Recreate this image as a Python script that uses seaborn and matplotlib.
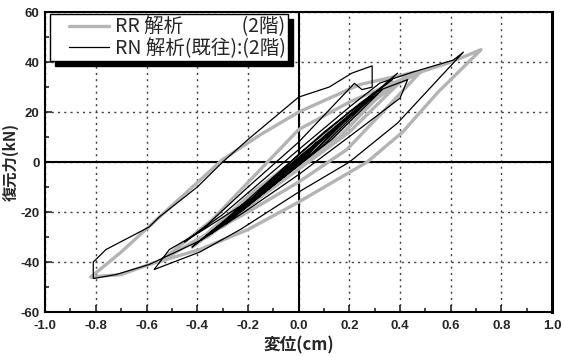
import numpy as np
import pandas as pd
import seaborn as sns
import matplotlib.pyplot as plt
from matplotlib.ticker import MultipleLocator
from matplotlib.patches import Rectangle
from matplotlib.legend_handler import HandlerLine2D

# RR 解析 (gray) - displacement (cm) / restoring force (kN)
rr_x = [0.0, 0.04, 0.0, -0.04, 0.0,
        0.08, 0.02, -0.08, -0.02,
        0.13, 0.04, -0.13, -0.04,
        0.18, 0.06, -0.18, -0.06,
        0.24, 0.09, -0.24, -0.09,
        0.30, 0.12, -0.30, -0.12,
        0.37, 0.16, -0.36, -0.15,
        0.42, 0.20, -0.42, -0.18,
        0.0, 0.25, 0.48,
        0.35, 0.19, 0.0, -0.2, -0.4, -0.55,
        -0.45, -0.34, 0.0, 0.2, 0.45, 0.6, 0.72,
        0.55, 0.41, 0.27, 0.0, -0.2, -0.39, -0.59, -0.70, -0.82,
        -0.70, -0.56, -0.43, -0.30, -0.15, 0.0, 0.24, 0.46]
rr_y = [0, 5, 1, -4, -1,
        9, 2, -8, -2,
        13, 3, -12, -3,
        17, 4, -16, -4,
        22, 6, -21, -6,
        27, 8, -26, -8,
        32, 10, -30, -10,
        34, 12, -34, -12,
        2, 24, 36,
        22, 5, -8, -20, -31, -40,
        -32, -23, 13, 24, 35, 40, 45,
        28, 12, 0, -16, -27, -35, -41, -45, -46,
        -36, -23, -11, 1, 11, 20, 31, 36]

# RN 解析(既往) (black)
rn_x = [0.0, 0.03, 0.0, -0.03, 0.0,
        0.07, 0.01, -0.07, -0.01,
        0.12, 0.03, -0.12, -0.03,
        0.17, 0.05, -0.17, -0.04,
        0.22, 0.07, -0.23, -0.07,
        0.28, 0.10, -0.29, -0.10,
        0.33, 0.13, -0.35, -0.12,
        0.39, 0.2, 0.0, -0.2, -0.42,
        -0.3, -0.1, 0.1, 0.3, 0.43, 0.40,
        0.25, 0.0, -0.2, -0.38, -0.59, -0.72, -0.81, -0.81, -0.76,
        -0.59, -0.55, -0.40, -0.30, -0.20, 0.0, 0.12, 0.21, 0.29, 0.29, 0.25, 0.22,
        0.0, -0.2, -0.36, -0.45,
        -0.3, 0.0, 0.2, 0.32, 0.45, 0.61, 0.65,
        0.39, 0.2, 0.0, -0.23, -0.39, -0.57, -0.51,
        -0.39, -0.19, 0.0, 0.2, 0.37]
rn_y = [0, 4, 1, -3, -1,
        8, 1, -7, -1,
        12, 2, -11, -2,
        16, 3, -15, -3,
        20, 5, -20, -5,
        25, 7, -25, -7,
        29, 9, -29, -9,
        35.6, 18, 2, -16, -34,
        -24, -6, 12, 28, 33, 25.6,
        14, -5, -19, -31, -41, -45, -46.6, -40, -35,
        -26, -22, -10, 0, 9, 26, 30, 35.6, 38.5, 30, 29, 31.5,
        8, -10, -25, -32,
        -21, 5, 22, 31.6, 36, 40.8, 44,
        15.6, 0, -12, -27, -36, -43, -35,
        -28, -15, 3, 20, 33]

label_rr = 'RR 解析\u3000\u3000\u3000(2階)'
label_rn = 'RN 解析(既往):(2階)'

rr = pd.DataFrame({'x': rr_x, 'y': rr_y})
rn = pd.DataFrame({'x': rn_x, 'y': rn_y})

sns.set_style('white')
plt.rcParams['font.family'] = ['Noto Sans CJK JP', 'DejaVu Sans']

fig = plt.figure(figsize=(5.64, 3.57), dpi=100)
ax = fig.add_axes([0.08, 0.126, 0.899, 0.84])

sns.lineplot(data=rr, x='x', y='y', sort=False, estimator=None, color='#b4b4b4',
             linewidth=2.4, ax=ax, label=label_rr)
sns.lineplot(data=rn, x='x', y='y', sort=False, estimator=None, color='black',
             linewidth=0.9, ax=ax, label=label_rn)

ax.axhline(0, color='black', lw=1.5, zorder=1)
ax.axvline(0, color='black', lw=1.5, zorder=1)

ax.xaxis.set_major_locator(MultipleLocator(0.2))
ax.xaxis.set_minor_locator(MultipleLocator(0.1))
ax.yaxis.set_major_locator(MultipleLocator(20))
ax.yaxis.set_minor_locator(MultipleLocator(10))
ax.grid(True, which='major', linestyle=(0, (1.5, 3)), color='#404040', lw=1)
ax.tick_params(which='both', direction='in', left=True, bottom=True, top=False, right=False)
ax.tick_params(which='major', length=5, width=1.2)
ax.tick_params(which='minor', length=3, width=1.2)
ax.tick_params(axis='x', pad=6)
ax.tick_params(axis='y', pad=4)
xt = np.arange(-1.0, 1.01, 0.2)
yt = np.arange(-60, 61, 20)
ax.set_xticks(xt)
ax.set_xticklabels([f'{v:.1f}' if abs(v) > 1e-9 else '0.0' for v in xt],
                   fontfamily='Liberation Sans', fontweight='bold', fontsize=9.5)
ax.set_yticks(yt)
ax.set_yticklabels([f'{int(v)}' for v in yt], fontfamily='Liberation Sans',
                   fontweight='bold', fontsize=9.5)
ax.set_xlim(-1.0, 1.0)
ax.set_ylim(-60, 60)

for s in ax.spines.values():
    s.set_color('black')
    s.set_linewidth(1.5)
ax.spines['right'].set_linewidth(2.2)

ax.set_xlabel('変位(cm)', fontsize=12, fontweight='bold', labelpad=3)
ax.set_ylabel('復元力(kN)', fontsize=11, fontweight='bold', labelpad=1)

leg = ax.legend(loc='upper left', bbox_to_anchor=(0.01, 0.993), fontsize=14,
                frameon=True, fancybox=False, edgecolor='black', framealpha=1,
                handlelength=2.9, borderpad=0.12, labelspacing=0.02, handletextpad=0.3,
                borderaxespad=0,
                handler_map={plt.Line2D: HandlerLine2D(xpad=0.85)})
leg.get_frame().set_linewidth(1.0)

# black drop shadow behind the legend box
fig.canvas.draw()
bb = leg.get_window_extent().transformed(fig.transFigure.inverted())
dx, dy = 5 / 564, 5 / 357
ax.add_patch(Rectangle((bb.x0 + dx, bb.y0 - dy), bb.width, bb.height,
                       transform=fig.transFigure, color='black', zorder=4.5, clip_on=False))

fig.savefig('out.png', dpi=100)
